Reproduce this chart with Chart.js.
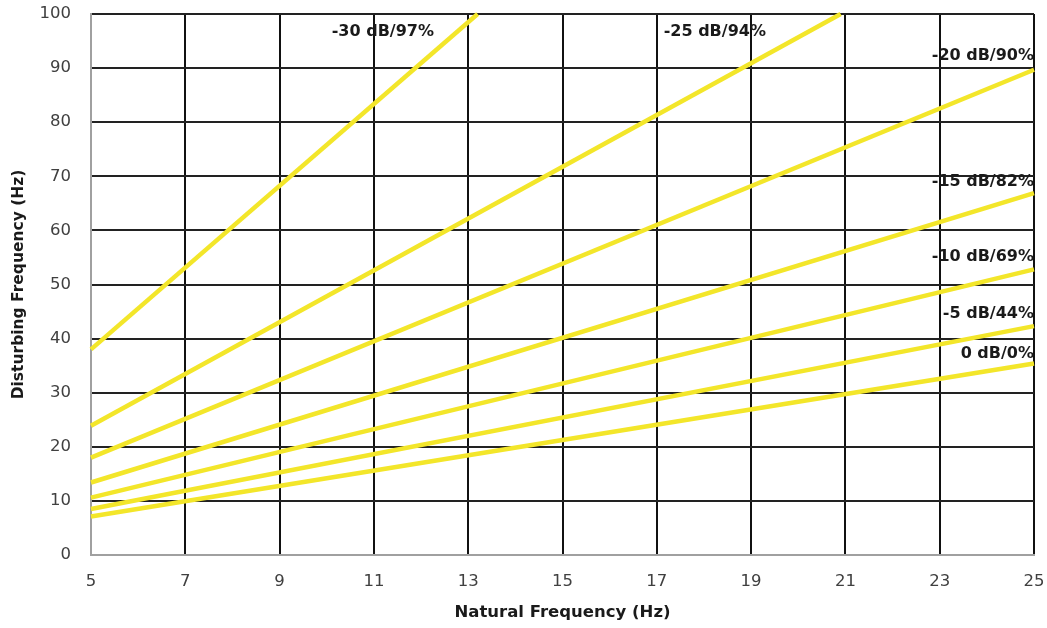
<!DOCTYPE html>
<html>
<head>
<meta charset="utf-8">
<script src="https://cdn.jsdelivr.net/npm/chart.js@4/dist/chart.umd.min.js"></script>
<style>
  html, body { margin: 0; padding: 0; background: #ffffff; }
  #wrap { width: 1047px; height: 628px; }
</style>
</head>
<body>
<div id="wrap"><canvas id="c" width="1047" height="628"></canvas></div>
<script>
// ---- data ----
const seriesNames = ['-30 dB/97%', '-25 dB/94%', '-20 dB/90%', '-15 dB/82%', '-10 dB/69%', '-5 dB/44%', '0 dB/0%'];
// natural frequency (Hz) at start / end of each line
const naturalStart = [5, 5, 5, 5, 5, 5, 5];
const naturalEnd   = [13.2, 20.9, 25, 25, 25, 25, 25];
// disturbing frequency (Hz) at start / end of each line
const disturbStart = [38.0, 23.9, 18.0, 13.4, 10.6, 8.5, 7.1];
const disturbEnd   = [100, 100, 89.7, 66.9, 52.8, 42.3, 35.4];
// tick labels
const xTicks = [5, 7, 9, 11, 13, 15, 17, 19, 21, 23, 25];
const yTicks = [0, 10, 20, 30, 40, 50, 60, 70, 80, 90, 100];
// label anchors (data coordinates) for the line annotations
const labelX = [11.19, 18.23, 25, 25, 25, 25, 25];
const labelY = [96.7, 96.7, 92.2, 68.9, 55.1, 44.5, 37.1];
const labelAlign = ['center', 'center', 'right', 'right', 'right', 'right', 'right'];

const datasets = seriesNames.map((name, i) => ({
  label: name,
  data: [{x: naturalStart[i], y: disturbStart[i]}, {x: naturalEnd[i], y: disturbEnd[i]}],
  borderColor: '#f3e62a',
  backgroundColor: '#f3e62a',
  borderWidth: 4.5,
  pointRadius: 0,
  tension: 0,
  showLine: true,
  clip: 2
}));

const lineLabels = {
  id: 'lineLabels',
  afterDatasetsDraw(chart) {
    const {ctx, scales: {x, y}} = chart;
    ctx.save();
    ctx.font = 'bold 16px "DejaVu Sans"';
    ctx.fillStyle = '#1a1a1a';
    ctx.textBaseline = 'middle';
    seriesNames.forEach((t, i) => {
      ctx.textAlign = labelAlign[i];
      ctx.fillText(t, x.getPixelForValue(labelX[i]), y.getPixelForValue(labelY[i]));
    });
    ctx.restore();
  }
};

new Chart(document.getElementById('c'), {
  type: 'scatter',
  data: { datasets },
  plugins: [lineLabels],
  options: {
    responsive: false,
    animation: false,
    devicePixelRatio: 1,
    layout: { padding: { left: 0, right: 13, top: 14, bottom: 0 } },
    plugins: { legend: { display: false }, tooltip: { enabled: false } },
    scales: {
      x: {
        type: 'linear',
        min: 5, max: 25,
        afterBuildTicks: (s) => { s.ticks = xTicks.map(v => ({value: v})); },
        afterFit: (s) => { s.height = 73; s.paddingLeft = 0; s.paddingRight = 0; },
        ticks: { font: { family: 'DejaVu Sans', size: 16.5 }, color: '#404040', padding: 17, maxRotation: 0 },
        grid: { color: '#111111', lineWidth: 2, drawTicks: false },
        border: { color: '#a0a0a0', width: 2 },
        title: { display: true, text: 'Natural Frequency (Hz)', font: { family: 'DejaVu Sans', size: 16.5, weight: 'bold' }, color: '#1a1a1a', padding: { top: 0, bottom: 5 } }
      },
      y: {
        type: 'linear',
        min: 0, max: 100,
        afterBuildTicks: (s) => { s.ticks = yTicks.map(v => ({value: v})); },
        afterFit: (s) => { s.width = 91; s.paddingTop = 0; s.paddingBottom = 0; },
        ticks: { font: { family: 'DejaVu Sans', size: 16.5 }, color: '#404040', padding: 20 },
        grid: { color: '#222222', lineWidth: 2, drawTicks: false },
        border: { color: '#a0a0a0', width: 2 },
        title: { display: true, text: 'Disturbing Frequency (Hz)', font: { family: 'DejaVu Sans', size: 15.5, weight: 'bold' }, color: '#1a1a1a', padding: { top: 10, bottom: 0 } }
      }
    }
  }
});
</script>
</body>
</html>
